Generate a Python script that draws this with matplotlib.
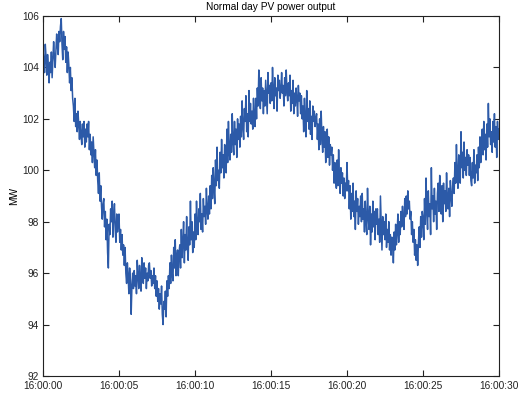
import numpy as np
import matplotlib
matplotlib.use("Agg")
import matplotlib.pyplot as plt

title = "Normal day PV power output"
ylabel = "MW"
x_ticks = [0, 5, 10, 15, 20, 25, 30]
x_tick_labels = ["16:00:00", "16:00:05", "16:00:10", "16:00:15", "16:00:20", "16:00:25", "16:00:30"]
y_ticks = [92, 94, 96, 98, 100, 102, 104, 106]

dt = 0.05  # seconds between samples
power_mw = [
    104.7, 104.2, 103.8, 104.9, 104.4, 103.7, 104.5, 104.1, 103.4, 104.2, 103.8, 104.6, 103.6, 104.3, 105.0, 104.4, 104.0, 104.7, 105.3, 104.8,
    104.5, 105.4, 105.0, 105.6, 105.9, 104.9, 104.3, 105.4, 104.7, 105.2, 104.2, 104.8, 103.8, 104.6, 104.1, 103.4, 104.0, 103.1, 103.6, 102.8,
    102.5, 101.9, 102.8, 101.7, 102.2, 101.5, 102.3, 101.8, 101.2, 101.9, 101.4, 101.0, 101.8, 101.3, 101.9, 100.9, 101.6, 101.1, 101.8, 101.3,
    101.9, 100.8, 101.4, 100.6, 101.1, 100.3, 101.3, 100.7, 100.1, 100.8, 99.8, 100.4, 99.6, 99.1, 99.9, 98.8, 99.4, 98.6, 98.1, 98.7,
    98.9, 97.8, 98.4, 97.3, 98.1, 96.8, 96.2, 97.9, 97.5, 98.5, 98.0, 98.8, 97.4, 98.2, 98.7, 97.7, 97.2, 98.3, 97.6, 98.0,
    98.3, 97.2, 97.7, 96.9, 97.5, 96.7, 97.1, 96.3, 97.0, 96.0, 95.6, 96.4, 95.9, 95.2, 96.2, 95.7, 94.4, 95.5, 96.0, 95.4,
    96.1, 95.5, 95.9, 95.2, 96.5, 95.9, 95.4, 96.3, 95.7, 95.3, 96.6, 95.9, 95.6, 96.4, 95.8, 96.2, 95.4, 96.0, 95.7, 96.3,
    96.4, 95.8, 96.1, 95.5, 95.9, 95.6, 96.2, 95.4, 95.9, 95.1, 95.7, 94.9, 95.4, 94.6, 95.2, 94.8, 95.5, 94.4, 94.0, 94.9,
    94.6, 95.3, 94.3, 95.7, 95.1, 95.9, 95.4, 96.4, 95.6, 96.7, 96.0, 95.7, 97.0, 96.2, 97.3, 95.9, 96.6, 96.9, 95.9, 96.8,
    97.1, 96.2, 97.7, 96.6, 97.2, 98.0, 96.4, 97.5, 96.9, 98.2, 97.0, 96.5, 97.8, 97.1, 98.8, 97.3, 98.0, 96.8, 97.6, 97.0,
    98.3, 97.3, 98.8, 97.8, 97.5, 98.5, 98.0, 99.1, 97.7, 98.3, 97.6, 98.9, 98.2, 98.6, 97.9, 99.3, 98.4, 98.1, 99.0, 98.3,
    99.4, 98.5, 99.8, 98.9, 100.1, 99.3, 98.7, 100.4, 99.4, 100.9, 99.6, 100.0, 99.3, 100.7, 99.9, 101.2, 100.1, 100.6, 99.7, 101.0,
    100.7, 99.9, 101.6, 100.3, 101.9, 100.8, 100.4, 101.4, 100.7, 102.2, 101.1, 100.6, 101.9, 101.0, 101.6, 100.5, 102.0, 101.2, 101.8, 100.9,
    102.1, 101.3, 102.7, 101.7, 101.2, 102.4, 101.9, 102.9, 101.5, 102.2, 101.3, 103.1, 101.9, 102.6, 101.8, 102.3, 101.6, 102.8, 102.0, 101.7,
    102.8, 102.0, 103.2, 102.5, 103.9, 102.9, 102.4, 103.6, 102.7, 103.2, 102.2, 103.1, 102.5, 103.5, 102.8, 102.2, 103.8, 103.0, 103.3, 102.6,
    103.4, 102.7, 104.0, 103.1, 102.4, 103.6, 102.9, 103.2, 102.3, 103.7, 103.1, 103.5, 102.8, 103.1, 103.8, 103.0, 103.3, 102.5, 103.6, 102.9,
    103.9, 103.1, 102.7, 103.4, 102.9, 103.7, 102.3, 103.1, 102.6, 103.5, 102.2, 103.0, 102.5, 103.2, 102.8, 102.1, 103.3, 102.7, 103.0, 102.2,
    102.9, 102.0, 102.5, 101.5, 102.8, 101.9, 101.3, 103.1, 101.9, 102.4, 101.6, 102.7, 101.4, 102.1, 101.2, 102.5, 101.9, 102.3, 101.7, 102.0,
    102.2, 101.2, 101.8, 100.8, 102.0, 101.0, 102.3, 101.3, 100.7, 101.7, 100.9, 101.5, 100.3, 101.1, 101.6, 100.5, 101.3, 100.2, 101.0, 100.6,
    100.9, 100.0, 100.6, 99.5, 100.3, 99.7, 99.3, 100.4, 99.4, 100.8, 99.8, 99.1, 100.1, 99.5, 99.9, 99.0, 99.7, 98.9, 99.5, 99.2,
    100.3, 99.2, 99.6, 98.5, 99.4, 98.1, 99.1, 98.4, 99.5, 98.2, 98.8, 97.7, 99.2, 98.4, 98.9, 97.9, 98.6, 98.2, 99.0, 98.0,
    99.1, 98.1, 98.5, 97.6, 98.8, 98.0, 97.5, 99.3, 98.2, 97.7, 98.6, 97.1, 98.3, 97.6, 98.8, 97.8, 98.4, 97.3, 98.5, 97.9,
    98.5, 97.5, 98.1, 97.2, 99.0, 97.9, 96.9, 98.2, 97.5, 98.0, 97.3, 98.3, 97.0, 97.7, 97.2, 98.0, 96.9, 97.5, 96.7, 97.4,
    97.3, 96.4, 97.6, 96.9, 97.9, 97.1, 97.6, 98.3, 97.2, 98.0, 97.5, 98.4, 97.8, 98.6, 98.1, 97.7, 98.9, 98.2, 99.0, 98.3,
    99.2, 98.5, 98.8, 98.1, 98.4, 97.5, 98.0, 97.2, 97.7, 96.7, 97.3, 96.5, 97.1, 96.3, 97.2, 97.8, 97.0, 98.2, 97.4, 98.4,
    98.1, 97.3, 98.9, 97.9, 99.7, 98.4, 97.7, 99.2, 98.2, 98.7, 97.5, 100.1, 98.5, 99.0, 98.0, 99.3, 98.3, 98.8, 97.7, 99.1,
    99.5, 98.4, 99.8, 98.8, 98.3, 99.4, 98.0, 99.5, 98.7, 99.2, 98.4, 99.9, 98.9, 98.5, 99.3, 98.2, 99.6, 99.0, 98.6, 99.4,
    99.7, 99.1, 100.3, 99.5, 101.0, 99.8, 99.3, 100.6, 99.9, 99.5, 101.5, 100.1, 100.7, 99.7, 101.1, 100.0, 100.5, 99.8, 100.8, 100.2,
    100.6, 99.8, 100.5, 99.6, 99.4, 100.3, 99.7, 100.8, 99.5, 100.2, 99.9, 100.6, 99.6, 100.9, 100.1, 101.3, 100.3, 100.8, 101.6, 100.6,
    101.9, 100.8, 101.4, 100.4, 101.8, 100.9, 102.6, 101.3, 102.0, 101.0, 101.5, 100.7, 101.9, 101.1, 102.2, 100.9, 101.7, 100.5, 101.9, 101.2,
    101.6,
]

t = np.arange(len(power_mw)) * dt

plt.rcParams['font.family'] = ['Liberation Sans', 'DejaVu Sans']
fig = plt.figure(figsize=(5.18, 3.98), dpi=100)
ax = fig.add_axes([43/518, 1-376/398, 456/518, 360/398])
ax.plot(t, power_mw, color="#2c5aa8", linewidth=1.1)
ax.set_xlim(0, 30)
ax.set_ylim(92, 106)
ax.set_xticks(x_ticks)
ax.set_xticklabels(x_tick_labels)
ax.set_yticks(y_ticks)
ax.tick_params(direction='in', top=True, right=True, length=4, width=0.8,
               labelsize=7.3, colors='#222222')
ax.tick_params(axis='x', pad=3.5)
ax.tick_params(axis='y', pad=3)
for s in ax.spines.values():
    s.set_linewidth(0.8)
    s.set_color('#222222')
ax.set_title(title, fontsize=7.3, pad=4)
ax.set_ylabel(ylabel, fontsize=7.3, labelpad=2)
fig.savefig("out.png", dpi=100)
